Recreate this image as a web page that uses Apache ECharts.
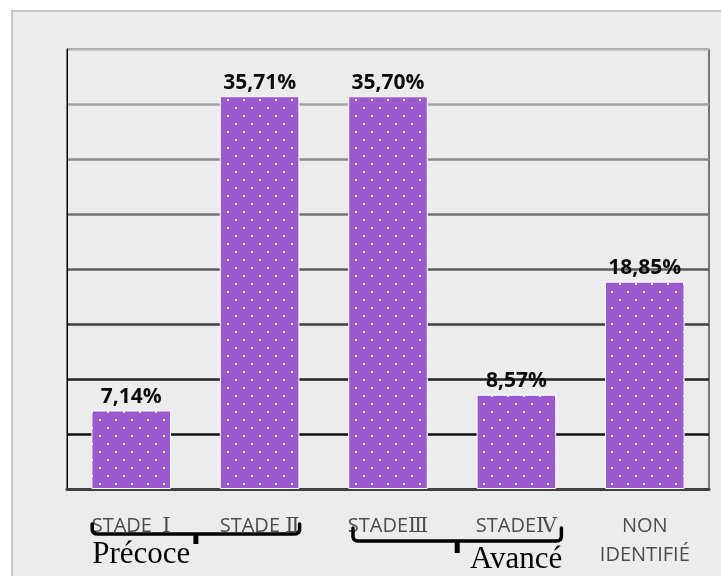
<!DOCTYPE html>
<html><head><meta charset="utf-8">
<script src="https://cdn.jsdelivr.net/npm/echarts@6/dist/echarts.min.js"></script>
<style>
html,body{margin:0;padding:0;background:#fff;}
#wrap{position:relative;width:721px;height:576px;overflow:hidden;}
#frame{position:absolute;left:11px;top:10px;width:760px;height:620px;background:#ececec;border:2px solid #c6c6c6;}
#chart{position:absolute;left:0;top:0;width:721px;height:576px;}
</style></head><body>
<div id="wrap"><div id="frame"></div><div id="chart"></div></div>
<script>
// Distribution by stage
const categories = ['STADE  Ⅰ', 'STADE Ⅱ', 'STADEⅢ', 'STADEⅣ', 'NON\nIDENTIFIÉ'];
const percentages = [7.14, 35.71, 35.70, 8.57, 18.85];
const groupNames = ['Précoce', 'Avancé'];
const groupSpans = [[0, 1], [2, 3]];

// gridline shades, from value 0 upward (dark at the bottom, light at the top)
const gridShades = ['#404040', '#111111', '#222222', '#3e3e3e', '#5e5e5e', '#747474', '#8a8a8a', '#a2a2a2', '#b8b8b8'];

function dotPattern() {
  const c = document.createElement('canvas');
  c.width = 16; c.height = 16;
  const g = c.getContext('2d');
  g.fillStyle = '#9b59cf';
  g.fillRect(0, 0, 16, 16);
  g.fillStyle = 'rgba(255,255,255,0.92)';
  g.fillRect(3, 3, 2, 2);
  g.fillRect(11, 11, 2, 2);
  return c;
}

const roman = /([ⅠⅡⅢⅣ]+)/;

const chart = echarts.init(document.getElementById('chart'), null, { renderer: 'canvas' });
chart.setOption({
  animation: false,
  backgroundColor: 'transparent',
  grid: { left: 67, right: 12, top: 49, bottom: 87, show: true, borderColor: '#000', borderWidth: 1, backgroundColor: 'transparent' },
  xAxis: {
    type: 'category',
    data: categories,
    axisLine: { lineStyle: { color: '#404040', width: 3 } },
    axisTick: { show: false },
    axisLabel: {
      interval: 0,
      margin: 23,
      color: '#4d4d4d',
      fontFamily: 'Open Sans',
      fontSize: 20,
      lineHeight: 29,
      formatter: v => v.split(roman).map(p => roman.test(p) ? '{r|' + p + '}' : p).join(''),
      rich: { r: { fontFamily: 'DejaVu Serif', fontSize: 21, color: '#4d4d4d', lineHeight: 29 } }
    }
  },
  yAxis: {
    type: 'value',
    min: 0, max: 40, interval: 5,
    axisLine: { show: true, lineStyle: { color: '#000', width: 1 } },
    axisTick: { show: false },
    axisLabel: { show: false },
    splitLine: { show: true, lineStyle: { color: gridShades, width: 2.5 } }
  },
  series: [{
    type: 'bar',
    data: percentages,
    barCategoryGap: '38%',
    itemStyle: { color: { image: dotPattern(), repeat: 'repeat' }, borderColor: '#fff', borderWidth: 1 },
    label: {
      show: true,
      position: 'top',
      distance: 3,
      color: '#0d0d0d',
      fontFamily: 'Open Sans',
      fontWeight: 'bold',
      fontSize: 21,
      formatter: p => p.value.toFixed(2).replace('.', ',') + '%'
    }
  }]
});

// group braces under the axis labels
const baseY = chart.convertToPixel({ yAxisIndex: 0 }, 0);
const cx = i => chart.convertToPixel({ xAxisIndex: 0 }, i);
const braceLayout = [
  { padL: 39, padR: 40, dy: 45, hook: 10, tick: 10, textDx: 0, textDy: 81 },
  { padL: 35, padR: 45, dy: 52, hook: 13, tick: 12, textDx: 117, textDy: 86 }
];
const graphics = [];
groupSpans.forEach((span, k) => {
  const L = braceLayout[k];
  const x0 = cx(span[0]) - L.padL, x1 = cx(span[1]) + L.padR;
  const y = baseY + L.dy, xm = (x0 + x1) / 2;
  graphics.push({
    type: 'polyline', z: 100,
    shape: { points: [
      [x0, y - L.hook], [x0, y - 4], [x0 + 1, y - 1.5], [x0 + 3, y - 0.3], [x0 + 6, y],
      [x1 - 6, y], [x1 - 3, y - 0.3], [x1 - 1, y - 1.5], [x1, y - 4], [x1, y - L.hook]
    ] },
    style: { fill: null, stroke: '#000', lineWidth: 3.5, lineCap: 'round', lineJoin: 'round' }
  });
  graphics.push({
    type: 'rect', z: 100,
    shape: { x: xm - 2.5, y: y - 1, width: 5, height: L.tick + 1 },
    style: { fill: '#000' }
  });
  graphics.push({
    type: 'text', z: 100,
    x: x0 + L.textDx, y: baseY + L.textDy,
    style: { text: groupNames[k], font: '31px "Liberation Serif"', fill: '#000', verticalAlign: 'bottom' }
  });
});
chart.setOption({ graphic: graphics });
</script>
</body></html>
